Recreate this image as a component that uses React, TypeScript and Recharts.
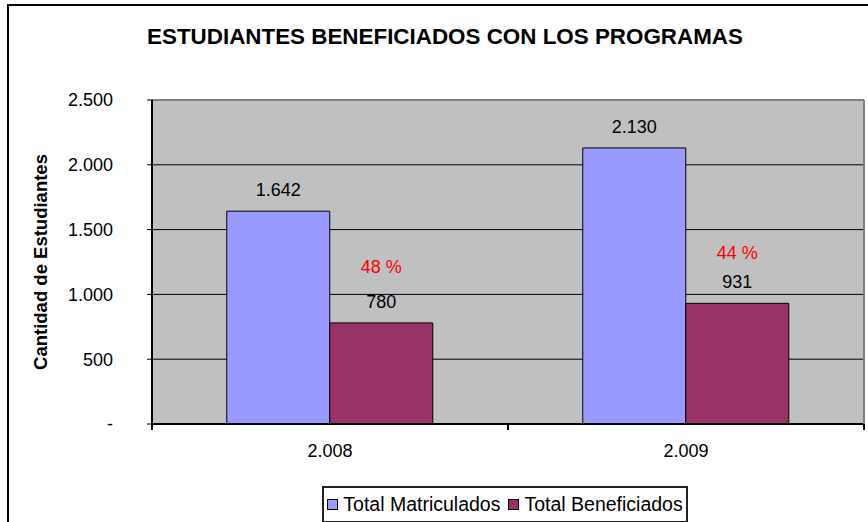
import { BarChart, Bar, XAxis, YAxis, CartesianGrid, LabelList, ReferenceLine } from "recharts";

const years = ["2.008", "2.009"];
const matriculados = [1642, 2130];
const beneficiados = [780, 931];
const porcentajes = ["48 %", "44 %"];
const yTicks = [0, 500, 1000, 1500, 2000, 2500];

const seriesNames = ["Total Matriculados", "Total Beneficiados"];
const seriesColors = ["#9999FF", "#993366"];

const data = years.map((year, i) => ({
  year,
  matriculados: matriculados[i],
  beneficiados: beneficiados[i],
  pct: porcentajes[i],
}));

const font = "'Liberation Sans', Arial, sans-serif";
// percent labels sit a bit differently over each bar in the original
const pctOffsets = [50, 44];

const fmt = (v: any) => {
  const n = Number(v);
  if (n === 0) return "-";
  return n.toLocaleString("de-DE");
};

// category tick: label in the middle, tick marks on the category borders
const YearTick = (props: any) => {
  const { x, y, payload, index, visibleTicksCount } = props;
  const half = payload.offset || 0;
  const axisY = y - 20;
  const last = index === (visibleTicksCount ?? years.length) - 1;
  return (
    <g>
      <line x1={x - half} x2={x - half} y1={axisY} y2={axisY + 6} stroke="#000" strokeWidth={2} />
      {last && (
        <line x1={x + half} x2={x + half} y1={axisY} y2={axisY + 6} stroke="#000" strokeWidth={2} />
      )}
      <text x={x} y={y} dy="0.71em" textAnchor="middle" fill="#000" fontSize={18} fontFamily={font}>
        {payload.value}
      </text>
    </g>
  );
};

const PctLabel = (props: any) => {
  const { x, y, width, index } = props;
  return (
    <text
      x={x + width / 2}
      y={y - pctOffsets[index]}
      textAnchor="middle"
      fill="#FF0000"
      fontSize={18}
      fontFamily={font}
    >
      {porcentajes[index]}
    </text>
  );
};

const YLabel = (props: any) => {
  const { x, y, height } = props.viewBox;
  const cx = x + 40;
  const cy = y + height / 2;
  return (
    <text
      x={cx}
      y={cy}
      transform={`rotate(-90 ${cx} ${cy})`}
      textAnchor="middle"
      dominantBaseline="central"
      fontWeight="bold"
      fontSize={18.5}
      fontFamily={font}
      fill="#000"
    >
      Cantidad de Estudiantes
    </text>
  );
};

export default function App() {
  return (
    <div
      style={{
        position: "absolute",
        left: 0,
        top: 0,
        width: 868,
        height: 522,
        background: "#fff",
        overflow: "hidden",
        fontFamily: font,
      }}
    >
      <div
        style={{
          position: "absolute",
          left: 7,
          top: 4,
          width: 900,
          height: 600,
          borderLeft: "2px solid #000",
          borderTop: "2px solid #000",
        }}
      />
      <div
        style={{
          position: "absolute",
          left: 0,
          width: 890,
          top: 24,
          textAlign: "center",
          fontWeight: "bold",
          fontSize: 22.4,
          color: "#000",
        }}
      >
        ESTUDIANTES BENEFICIADOS CON LOS PROGRAMAS
      </div>
      <div style={{ position: "absolute", left: 0, top: 0 }}>
        <BarChart
          width={868}
          height={522}
          data={data}
          margin={{ top: 100, right: 2, bottom: 68, left: 0 }}
          barCategoryGap="21%"
          barGap={0}
        >
          <CartesianGrid fill="#C0C0C0" stroke="#000" vertical={false} />
          <XAxis
            dataKey="year"
            height={30}
            axisLine={{ stroke: "#000", strokeWidth: 2 }}
            tickLine={false}
            tickSize={0}
            tickMargin={20}
            tick={YearTick}
          />
          <YAxis
            width={152}
            domain={[0, 2500]}
            ticks={yTicks}
            tickFormatter={fmt}
            axisLine={{ stroke: "#000", strokeWidth: 2 }}
            tickLine={{ stroke: "#000" }}
            tickSize={5}
            tickMargin={34}
            tick={{ fill: "#000", fontSize: 18, fontFamily: font }}
            label={{ content: YLabel }}
          />
          <YAxis
            yAxisId="right"
            orientation="right"
            width={2}
            domain={[0, 2500]}
            tick={false}
            tickLine={false}
            axisLine={{ stroke: "#808080", strokeWidth: 2 }}
          />
          <ReferenceLine y={2500} stroke="#808080" strokeWidth={2} />
          <Bar
            dataKey="matriculados"
            fill={seriesColors[0]}
            stroke="#000"
            strokeWidth={1}
            isAnimationActive={false}
          >
            <LabelList
              dataKey="matriculados"
              position="top"
              offset={15}
              formatter={fmt}
              fill="#000"
              fontSize={18}
              fontFamily={font}
            />
          </Bar>
          <Bar
            dataKey="beneficiados"
            fill={seriesColors[1]}
            stroke="#000"
            strokeWidth={1}
            isAnimationActive={false}
          >
            <LabelList
              dataKey="beneficiados"
              position="top"
              offset={15}
              formatter={fmt}
              fill="#000"
              fontSize={18}
              fontFamily={font}
            />
            <LabelList dataKey="pct" content={PctLabel} />
          </Bar>
        </BarChart>
      </div>
      <div
        style={{
          position: "absolute",
          left: 322,
          top: 486,
          width: 362,
          height: 33,
          border: "2px solid #222",
          display: "flex",
          alignItems: "center",
          justifyContent: "center",
          gap: 8,
          fontSize: 19.5,
          color: "#000",
        }}
      >
        {seriesNames.map((name, i) => (
          <div key={name} style={{ display: "flex", alignItems: "center", gap: 5 }}>
            <span
              style={{
                display: "inline-block",
                width: 9,
                height: 9,
                background: seriesColors[i],
                border: "1px solid #000",
              }}
            />
            <span>{name}</span>
          </div>
        ))}
      </div>
    </div>
  );
}
